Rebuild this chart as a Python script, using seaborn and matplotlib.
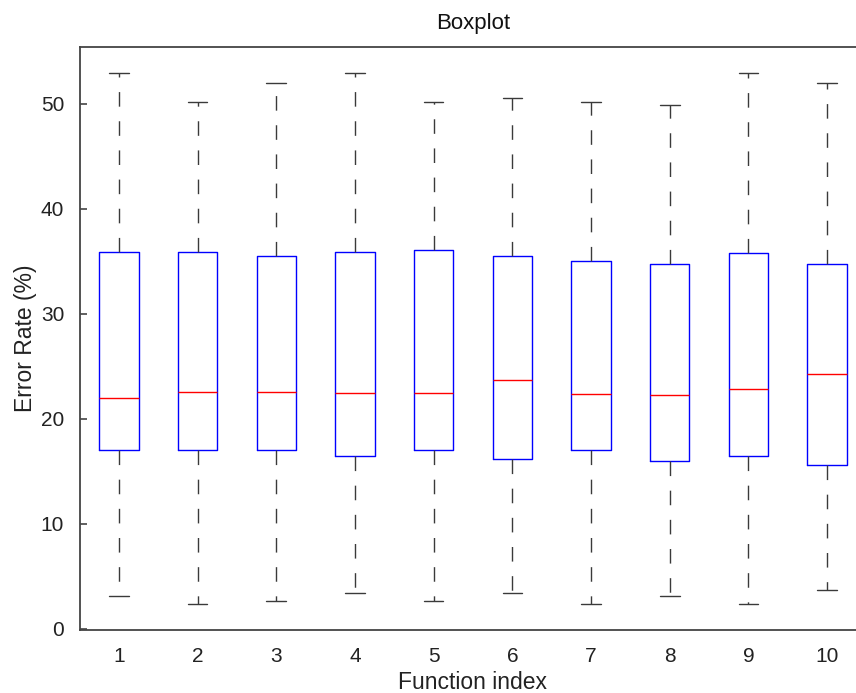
import numpy as np
import pandas as pd
import matplotlib
matplotlib.use("Agg")
import matplotlib.pyplot as plt
import seaborn as sns

# five-number summary per function
func_index = [1, 2, 3, 4, 5, 6, 7, 8, 9, 10]
whisk_low = [3.1, 2.4, 2.7, 3.4, 2.7, 3.4, 2.4, 3.1, 2.4, 3.7]
q1 = [17.0, 17.0, 17.0, 16.5, 17.0, 16.2, 17.0, 16.0, 16.5, 15.6]
med = [22.0, 22.6, 22.6, 22.5, 22.5, 23.7, 22.4, 22.3, 22.8, 24.3]
q3 = [35.9, 35.9, 35.5, 35.9, 36.1, 35.5, 35.0, 34.7, 35.8, 34.7]
whisk_high = [52.9, 50.2, 52.0, 52.9, 50.2, 50.5, 50.2, 49.9, 52.9, 52.0]

rows = []
for i, f in enumerate(func_index):
    for v in (whisk_low[i], q1[i], med[i], q3[i], whisk_high[i]):
        rows.append({"func": f, "rate": v})
df = pd.DataFrame(rows)

sns.set_style("ticks")
plt.rcParams["font.family"] = ["Liberation Sans", "DejaVu Sans"]

fig = plt.figure(figsize=(8.56, 6.93), dpi=100)
ax = fig.add_axes([79.5 / 856, 63 / 693, 787 / 856, 583 / 693])

sns.boxplot(data=df, x="func", y="rate", native_scale=True, ax=ax,
            whis=np.inf, width=0.5, fill=False, color="blue", linewidth=1.0,
            showfliers=False, capwidths=0.25,
            whiskerprops=dict(color="#3a3a3a", linestyle=(0, (10.5, 10.5)), linewidth=1.0),
            capprops=dict(color="#3a3a3a", linewidth=1.0),
            medianprops=dict(color="red", linewidth=1.0),
            boxprops=dict(color="blue", linewidth=1.0))

ax.set_xlim(0.5, 10.5)
ax.set_ylim(-0.1, 55.4)
ax.set_xticks(func_index)
ax.set_xticklabels([str(f) for f in func_index])
ax.set_yticks([0, 10, 20, 30, 40, 50])

for s in ["left", "top", "bottom"]:
    ax.spines[s].set_color("#444444")
    ax.spines[s].set_linewidth(1.3)
ax.spines["right"].set_visible(False)

ax.tick_params(axis="y", direction="in", length=5, width=1.2, color="#444444",
               labelsize=15, pad=11, labelcolor="#222222", left=True, right=False)
ax.tick_params(axis="x", length=0, labelsize=15, pad=12, labelcolor="#222222",
               top=False)

ax.set_xlabel("Function index", fontsize=16.5, color="#222222", labelpad=4)
ax.set_ylabel("Error Rate (%)", fontsize=16.5, color="#222222", labelpad=3)
ax.set_title("Boxplot", fontsize=16, color="#111111", pad=13)

fig.savefig("out.png", dpi=100)
